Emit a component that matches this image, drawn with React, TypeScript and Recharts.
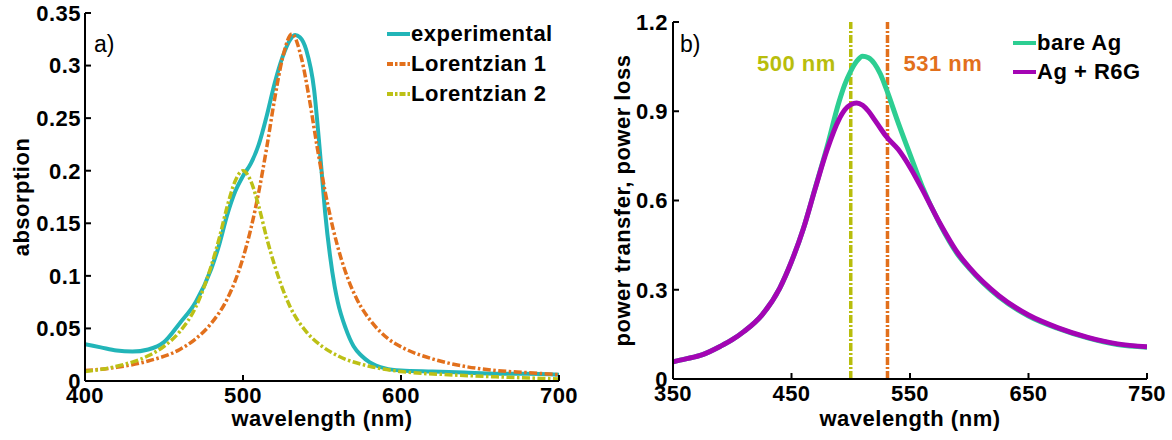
import React from 'react';
import { LineChart, Line, XAxis, YAxis, ReferenceLine, Legend } from 'recharts';

const FONT = '"Liberation Sans", Arial, Helvetica, sans-serif';

// ---------- Panel a) absorption ----------
const expWavelength = [400, 410, 420, 430, 440, 450, 460, 470, 480, 485, 490, 495, 500, 505, 510, 515, 520, 525, 530, 533, 536, 540, 545, 548, 550, 552, 555, 558, 560, 565, 570, 575, 580, 590, 600, 620, 640, 660, 680, 700];
const expAbsorption = [0.035, 0.032, 0.029, 0.028, 0.03, 0.037, 0.055, 0.075, 0.107, 0.13, 0.158, 0.18, 0.195, 0.207, 0.225, 0.252, 0.283, 0.308, 0.325, 0.329, 0.327, 0.315, 0.277, 0.23, 0.195, 0.16, 0.12, 0.09, 0.075, 0.05, 0.033, 0.024, 0.018, 0.012, 0.01, 0.009, 0.008, 0.007, 0.007, 0.006];

const lor1Wavelength = [400, 420, 440, 460, 470, 480, 490, 495, 500, 505, 510, 515, 520, 525, 531, 537, 542, 547, 552, 557, 562, 567, 572, 582, 592, 602, 620, 640, 660, 680, 700];
const lor1Absorption = [0.01, 0.013, 0.019, 0.03, 0.04, 0.055, 0.078, 0.095, 0.117, 0.145, 0.18, 0.222, 0.268, 0.307, 0.33, 0.307, 0.268, 0.222, 0.18, 0.145, 0.117, 0.095, 0.078, 0.055, 0.04, 0.031, 0.021, 0.014, 0.01, 0.008, 0.006];

const lor2Wavelength = [400, 420, 440, 450, 460, 470, 480, 485, 490, 495, 500, 505, 510, 515, 520, 530, 540, 550, 560, 580, 600, 630, 660, 700];
const lor2Absorption = [0.009, 0.014, 0.024, 0.033, 0.047, 0.07, 0.11, 0.136, 0.166, 0.19, 0.2, 0.19, 0.166, 0.136, 0.11, 0.07, 0.047, 0.033, 0.024, 0.014, 0.009, 0.006, 0.004, 0.002];

const aXTicks = [400, 500, 600, 700];
const aYTicks = [0, 0.05, 0.1, 0.15, 0.2, 0.25, 0.3, 0.35];
const aLegendOrder = ['experimental', 'Lorentzian 1', 'Lorentzian 2'];

// ---------- Panel b) power transfer ----------
const bWavelength = [350, 360, 375, 390, 400, 410, 425, 440, 450, 460, 470, 480, 490, 495, 500, 505, 510, 515, 520, 525, 530, 540, 550, 560, 575, 590, 600, 625, 650, 675, 700, 725, 750];
const bareAg = [0.058, 0.067, 0.082, 0.11, 0.132, 0.16, 0.215, 0.305, 0.395, 0.505, 0.642, 0.78, 0.93, 0.99, 1.035, 1.068, 1.085, 1.08, 1.06, 1.025, 0.975, 0.862, 0.755, 0.65, 0.522, 0.42, 0.372, 0.276, 0.212, 0.17, 0.138, 0.116, 0.107];
const agR6G = [0.058, 0.067, 0.082, 0.11, 0.132, 0.16, 0.215, 0.305, 0.395, 0.505, 0.64, 0.77, 0.872, 0.905, 0.922, 0.928, 0.92, 0.9, 0.872, 0.843, 0.815, 0.772, 0.712, 0.64, 0.525, 0.425, 0.375, 0.28, 0.215, 0.172, 0.14, 0.118, 0.108];

const bXTicks = [350, 450, 550, 650, 750];
const bYTicks = [0, 0.3, 0.6, 0.9, 1.2];
const bLegendOrder = ['bare Ag', 'Ag + R6G'];
const resonanceWavelengths = [500, 531];
const resonanceLabels = ['500 nm', '531 nm'];
const resonanceColors = ['#b8bd0c', '#e2701c'];

const zip = (xs: number[], ys: number[]) => xs.map((x, i) => ({ x, y: ys[i] }));

const C_EXP = '#22b5b8';
const C_L1 = '#e2701c';
const C_L2 = '#bcc016';
const C_BARE = '#2dce92';
const C_R6G = '#a405b4';

const DASHDOT = '8 2.5 2.5 2.5';
const FS = 22;
const LS = 0.5;

const tickStyle = { fill: '#000', fontSize: FS, fontWeight: 700, fontFamily: FONT, letterSpacing: LS };
const axisLine = { stroke: '#000', strokeWidth: 2 };
const tickLine = { stroke: '#000', strokeWidth: 2 };
const labelStyle = { fill: '#000', fontSize: FS, fontWeight: 700, fontFamily: FONT, letterSpacing: LS };
const blank = () => '';

const dashByName: Record<string, string | undefined> = {
  experimental: undefined,
  'Lorentzian 1': '6 2 2.5 2',
  'Lorentzian 2': '6 2 2.5 2',
  'bare Ag': undefined,
  'Ag + R6G': undefined,
};

const makeLegend = (order: string[], rowH: number, sampleW: number) => (props: any) => {
  const payload = [...(props.payload || [])].sort(
    (a: any, b: any) => order.indexOf(a.value) - order.indexOf(b.value)
  );
  return (
    <div style={{ fontFamily: FONT, fontWeight: 700, fontSize: FS, letterSpacing: LS, color: '#000' }}>
      {payload.map((p: any) => (
        <div key={p.value} style={{ display: 'flex', alignItems: 'center', height: rowH, whiteSpace: 'nowrap' }}>
          <svg width={sampleW} height={6} style={{ display: 'block' }}>
            <line x1={0} x2={sampleW} y1={3} y2={3} stroke={p.color} strokeWidth={4} strokeDasharray={dashByName[p.value]} />
          </svg>
          <span style={{ marginLeft: 1, lineHeight: 1 }}>{p.value}</span>
        </div>
      ))}
    </div>
  );
};

const resonanceLabel = (text: string, color: string, side: 'left' | 'right') => (props: any) => {
  const vb = props.viewBox || { x: 0, y: 0 };
  return (
    <text
      x={side === 'left' ? vb.x - 15 : vb.x + 16}
      y={vb.y + 49}
      textAnchor={side === 'left' ? 'end' : 'start'}
      fontSize={FS}
      fontWeight={700}
      fontFamily={FONT}
      letterSpacing={LS}
      fill={color}
    >
      {text}
    </text>
  );
};

const tagStyle: React.CSSProperties = {
  position: 'absolute',
  fontFamily: FONT,
  fontSize: 23,
  lineHeight: '23px',
  color: '#000',
  whiteSpace: 'nowrap',
};

function PanelA() {
  return (
    <LineChart width={586} height={440} margin={{ top: 13, right: 27, bottom: 9, left: 5 }}>
      <XAxis
        dataKey="x"
        type="number"
        domain={[400, 700]}
        ticks={aXTicks}
        interval={0}
        allowDataOverflow
        height={50}
        axisLine={axisLine}
        tickLine={tickLine}
        tickSize={-6}
        tickMargin={12}
        tick={tickStyle}
        label={{ value: 'wavelength (nm)', position: 'insideBottom', offset: 5, ...labelStyle }}
      />
      <XAxis
        xAxisId="top"
        orientation="top"
        type="number"
        domain={[400, 700]}
        ticks={aXTicks}
        interval={0}
        allowDataOverflow
        height={0}
        mirror
        axisLine={axisLine}
        tickLine={tickLine}
        tickSize={6}
        tickFormatter={blank}
      />
      <YAxis
        type="number"
        domain={[0, 0.35]}
        ticks={aYTicks}
        interval={0}
        allowDataOverflow
        width={80}
        axisLine={axisLine}
        tickLine={tickLine}
        tickSize={-6}
        tickMargin={10}
        tick={tickStyle}
        label={{ value: 'absorption', angle: -90, position: 'insideLeft', offset: 16, style: { textAnchor: 'middle' }, ...labelStyle }}
      />
      <YAxis
        yAxisId="right"
        orientation="right"
        type="number"
        domain={[0, 0.35]}
        ticks={aYTicks}
        interval={0}
        allowDataOverflow
        width={0}
        mirror
        axisLine={axisLine}
        tickLine={tickLine}
        tickSize={6}
        tickFormatter={blank}
      />
      <Line data={zip(expWavelength, expAbsorption)} dataKey="y" name="experimental" type="monotone" stroke={C_EXP} strokeWidth={4} dot={false} activeDot={false} isAnimationActive={false} />
      <Line data={zip(lor1Wavelength, lor1Absorption)} dataKey="y" name="Lorentzian 1" type="monotone" stroke={C_L1} strokeWidth={3.5} strokeDasharray={DASHDOT} dot={false} activeDot={false} isAnimationActive={false} />
      <Line data={zip(lor2Wavelength, lor2Absorption)} dataKey="y" name="Lorentzian 2" type="monotone" stroke={C_L2} strokeWidth={3.5} strokeDasharray={DASHDOT} dot={false} activeDot={false} isAnimationActive={false} />
      <Legend
        layout="vertical"
        align="center"
        verticalAlign="middle"
        content={makeLegend(aLegendOrder, 30, 23)}
        wrapperStyle={{ left: 387, top: 19, width: 'auto', height: 'auto' }}
      />
    </LineChart>
  );
}

function PanelB() {
  return (
    <LineChart width={586} height={440} margin={{ top: 22, right: 25, bottom: 11, left: 7 }}>
      <XAxis
        dataKey="x"
        type="number"
        domain={[350, 750]}
        ticks={bXTicks}
        interval={0}
        allowDataOverflow
        height={50}
        axisLine={axisLine}
        tickLine={tickLine}
        tickSize={-6}
        tickMargin={12}
        tick={tickStyle}
        label={{ value: 'wavelength (nm)', position: 'insideBottom', offset: 3, ...labelStyle }}
      />
      <XAxis
        xAxisId="top"
        orientation="top"
        type="number"
        domain={[350, 750]}
        ticks={bXTicks}
        interval={0}
        allowDataOverflow
        height={0}
        mirror
        axisLine={axisLine}
        tickLine={tickLine}
        tickSize={6}
        tickFormatter={blank}
      />
      <YAxis
        type="number"
        domain={[0, 1.2]}
        ticks={bYTicks}
        interval={0}
        allowDataOverflow
        width={80}
        axisLine={axisLine}
        tickLine={tickLine}
        tickSize={-6}
        tickMargin={11}
        tick={tickStyle}
        label={{ value: 'power transfer, power loss', angle: -90, position: 'insideLeft', offset: 29, style: { textAnchor: 'middle' }, ...labelStyle }}
      />
      <YAxis
        yAxisId="right"
        orientation="right"
        type="number"
        domain={[0, 1.2]}
        ticks={bYTicks}
        interval={0}
        allowDataOverflow
        width={0}
        mirror
        axisLine={axisLine}
        tickLine={tickLine}
        tickSize={6}
        tickFormatter={blank}
      />
      {resonanceWavelengths.map((w, i) => (
        <ReferenceLine
          key={w}
          x={w}
          stroke={resonanceColors[i]}
          strokeWidth={3.5}
          strokeDasharray="8 2 2 2"
          label={{ content: resonanceLabel(resonanceLabels[i], resonanceColors[i], i === 0 ? 'left' : 'right') }}
        />
      ))}
      <Line data={zip(bWavelength, bareAg)} dataKey="y" name="bare Ag" type="monotone" stroke={C_BARE} strokeWidth={5} dot={false} activeDot={false} isAnimationActive={false} />
      <Line data={zip(bWavelength, agR6G)} dataKey="y" name="Ag + R6G" type="monotone" stroke={C_R6G} strokeWidth={5} dot={false} activeDot={false} isAnimationActive={false} />
      <Legend
        layout="vertical"
        align="center"
        verticalAlign="middle"
        content={makeLegend(bLegendOrder, 29, 23)}
        wrapperStyle={{ left: 427, top: 28, width: 'auto', height: 'auto' }}
      />
    </LineChart>
  );
}

export default function App() {
  return (
    <div style={{ position: 'absolute', left: 0, top: 0, width: 1172, height: 440, background: '#fff', fontFamily: FONT }}>
      <div style={{ position: 'absolute', left: 0, top: 0 }}>
        <PanelA />
      </div>
      <div style={{ position: 'absolute', left: 586, top: 0 }}>
        <PanelB />
      </div>
      <div style={{ ...tagStyle, left: 94, top: 33 }}>a)</div>
      <div style={{ ...tagStyle, left: 680, top: 33 }}>b)</div>
    </div>
  );
}
